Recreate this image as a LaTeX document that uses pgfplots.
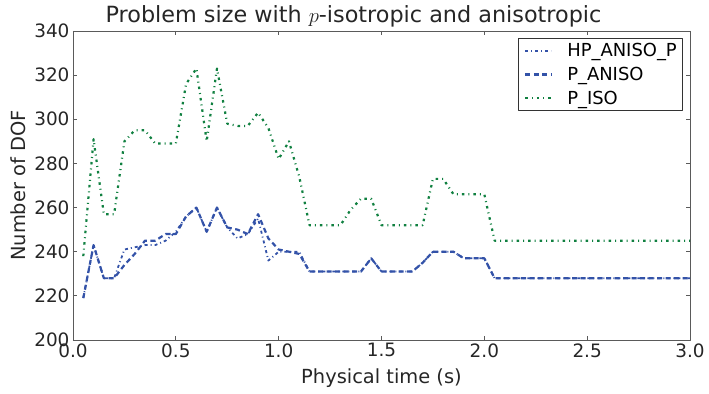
\documentclass[border=0pt]{standalone}
\usepackage{pgfplots}
\pgfplotsset{compat=1.18}
\usepackage{pgfplotstable}
\usepackage{fontspec}
\setmainfont{DejaVu Sans}
\definecolor{myblue}{RGB}{51,82,168}
\definecolor{mygreen}{RGB}{16,128,64}
\definecolor{axisgray}{RGB}{90,90,90}

\pgfplotstableread{
t v
0.05 219
0.10 243
0.15 228
0.20 228
0.25 241
0.30 242
0.35 243
0.40 243
0.45 245
0.50 249
0.55 256
0.60 260
0.65 249
0.70 260
0.75 251
0.80 246
0.85 248
0.90 255
0.95 236
1.00 240
1.05 240
1.10 240
1.15 231
1.20 231
1.25 231
1.30 231
1.35 231
1.40 231
1.45 237
1.50 231
1.55 231
1.60 231
1.65 231
1.70 235
1.75 240
1.80 240
1.85 240
1.90 237
1.95 237
2.00 237
2.05 228
2.50 228
3.00 228
}\hpaniso

\pgfplotstableread{
t v
0.05 219
0.10 243
0.15 228
0.20 228
0.25 234
0.30 239
0.35 245
0.40 245
0.45 248
0.50 248
0.55 256
0.60 260
0.65 249
0.70 260
0.75 251
0.80 250
0.85 248
0.90 257
0.95 246
1.00 241
1.05 240
1.10 239
1.15 231
1.20 231
1.25 231
1.30 231
1.35 231
1.40 231
1.45 237
1.50 231
1.55 231
1.60 231
1.65 231
1.70 235
1.75 240
1.80 240
1.85 240
1.90 237
1.95 237
2.00 237
2.05 228
2.50 228
3.00 228
}\paniso

\pgfplotstableread{
t v
0.05 238
0.10 291
0.15 257
0.20 257
0.25 290
0.30 295
0.35 295
0.40 289
0.45 289
0.50 289
0.55 316
0.60 323
0.65 290
0.70 323
0.75 298
0.80 297
0.85 297
0.90 303
0.95 296
1.00 282
1.05 290
1.10 274
1.15 252
1.20 252
1.25 252
1.30 252
1.35 259
1.40 264
1.45 264
1.50 252
1.55 252
1.60 252
1.65 252
1.70 252
1.75 273
1.80 273
1.85 266
1.90 266
1.95 266
2.00 266
2.05 245
2.50 245
3.00 245
}\piso

\begin{document}
\begin{tikzpicture}
\begin{axis}[
  width=617bp, height=309bp, scale only axis,
  xmin=0, xmax=3, ymin=200, ymax=340,
  xtick={0,0.5,1,1.5,2,2.5,3},
  ytick={200,220,240,260,280,300,320,340},
  tick align=inside, major tick length=4bp,
  axis line style={axisgray, line width=1pt},
  tick style={axisgray, line width=0.8pt},
  /pgf/number format/assume math mode=true,
  xticklabel style={/pgf/number format/.cd, fixed, fixed zerofill, precision=1},
  yticklabel style={/pgf/number format/.cd, fixed, precision=0, 1000 sep={}},
  ticklabel style={font=\fontsize{18.5}{21}\selectfont, text=black!85},
  label style={font=\fontsize{19.5}{22}\selectfont, text=black!85},
  title style={font=\fontsize{22.4}{25}\selectfont, text=black!85, yshift=-6bp, xshift=-28bp},
  title={Problem size with $p$-isotropic and anisotropic},
  xlabel={Physical time (s)},
  ylabel={Number of DOF},
  xlabel style={yshift=-4bp},
  ylabel style={at={(axis description cs:-0.089,0.5)}, anchor=center, rotate=0},
  legend style={at={(0.987,0.977)}, anchor=north east, draw=black!80,
    font=\fontsize{18}{21}\selectfont, row sep=5bp, inner xsep=3bp, inner ysep=3bp},
  legend cell align=left,
  legend image code/.code={\path[draw=none] (0bp,0bp) -- (44bp,0bp); \draw[#1] (4bp,0bp) -- (30bp,0bp);},
  line join=round,
]
\addplot[myblue, line width=1.8pt, dash pattern=on 3bp off 3bp on 1bp off 3bp] table[x=t,y=v] {\hpaniso};
\addlegendentry{HP\_ANISO\_P}
\addplot[myblue, line width=2.2pt, dash pattern=on 5bp off 3.5bp] table[x=t,y=v] {\paniso};
\addlegendentry{P\_ANISO}
\addplot[mygreen, line width=2.2pt, dash pattern=on 2.5bp off 4bp on 1bp off 4bp] table[x=t,y=v] {\piso};
\addlegendentry{P\_ISO}
\end{axis}
\pgfresetboundingbox
\path ([xshift=-73bp,yshift=-54bp]current axis.south west) rectangle ([xshift=19bp,yshift=31bp]current axis.north east);
\end{tikzpicture}
\end{document}
